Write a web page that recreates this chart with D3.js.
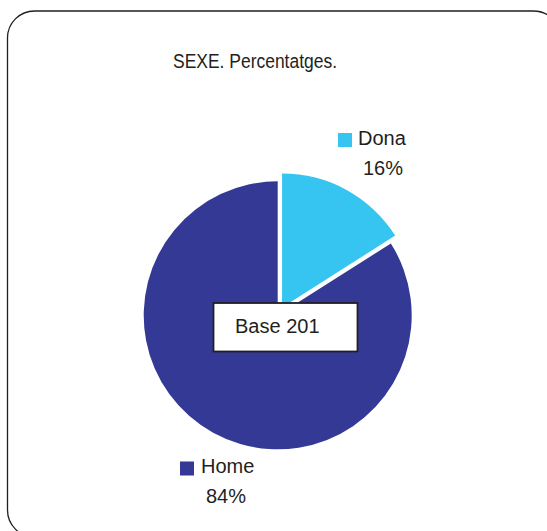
<!DOCTYPE html>
<html lang="ca">
	<head>
		<meta charset="UTF-8">
		<title>SEXE. Percentatges.</title>
		<script src="https://d3js.org/d3.v7.min.js"></script>
		<style>
			body { margin: 0; background: #fff; }
			text { font-family: "Liberation Sans", Arial, sans-serif; fill: #231f20; }
		</style>
	</head>
	<body>
		<script>
			var categories = ['Dona', 'Home'];
			var values = [16, 84];
			var colors = ['#36c5f1', '#333995'];
			var title = 'SEXE. Percentatges.';
			var baseLabel = 'Base 201';

			var width = 547, height = 531;
			var cx = 277.7, cy = 315.3, radius = 134, explode = 9;

			var svg = d3.select('body')
							.append('svg')
							.attr('width', width)
							.attr('height', height);

			// rounded frame, runs off the right and bottom edges
			svg.append('rect')
				.attr('x', 7.5)
				.attr('y', 11)
				.attr('width', 553)
				.attr('height', 526)
				.attr('rx', 27)
				.attr('fill', 'none')
				.attr('stroke', '#231f20')
				.attr('stroke-width', 1.3);

			svg.append('text')
				.attr('x', 173)
				.attr('y', 68)
				.attr('font-size', 20.5)
				.attr('textLength', 164)
				.attr('lengthAdjust', 'spacingAndGlyphs')
				.text(title);

			var pie = d3.pie().sort(null).value(function(d) { return d; });
			var arcs = pie(values);
			var arc = d3.arc().innerRadius(0).outerRadius(radius);

			var g = svg.append('g')
						.attr('transform', 'translate(' + cx + ',' + cy + ')');

			g.selectAll('path')
				.data(arcs)
				.enter()
					.append('path')
					.attr('d', arc)
					.attr('fill', function(d, i) { return colors[i]; })
					.attr('transform', function(d, i) {
						if (i !== 0) return null;
						var mid = (d.startAngle + d.endAngle) / 2;
						return 'translate(' + (Math.sin(mid) * explode) + ',' + (-Math.cos(mid) * explode) + ')';
					});

			// legend labels beside each slice
			var legendPos = [
				{ sx: 338, sy: 133, tx: 358, ty: 145, px: 363, py: 175 },
				{ sx: 180, sy: 461.5, tx: 201, ty: 473, px: 206, py: 503 }
			];

			var legend = svg.selectAll('g.legend')
							.data(categories)
							.enter()
								.append('g')
								.attr('class', 'legend');

			legend.append('rect')
				.attr('x', function(d, i) { return legendPos[i].sx; })
				.attr('y', function(d, i) { return legendPos[i].sy; })
				.attr('width', 14)
				.attr('height', 14)
				.attr('fill', function(d, i) { return colors[i]; });

			legend.append('text')
				.attr('x', function(d, i) { return legendPos[i].tx; })
				.attr('y', function(d, i) { return legendPos[i].ty; })
				.attr('font-size', 20)
				.text(function(d) { return d; });

			legend.append('text')
				.attr('x', function(d, i) { return legendPos[i].px; })
				.attr('y', function(d, i) { return legendPos[i].py; })
				.attr('font-size', 20)
				.text(function(d, i) { return values[i] + '%'; });

			// base box
			svg.append('rect')
				.attr('x', 213.5)
				.attr('y', 303)
				.attr('width', 144)
				.attr('height', 48.5)
				.attr('fill', '#fff')
				.attr('stroke', '#231f20')
				.attr('stroke-width', 1.8);

			svg.append('text')
				.attr('x', 235)
				.attr('y', 333)
				.attr('font-size', 20)
				.text(baseLabel);
		</script>
	</body>
</html>
